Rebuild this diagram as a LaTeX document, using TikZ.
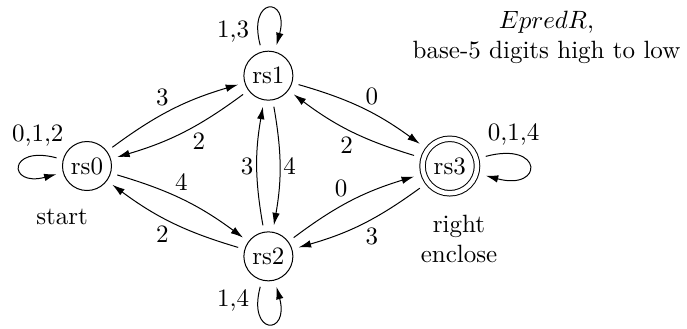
\documentclass[tikz,border=0pt]{standalone}
\usetikzlibrary{arrows.meta,positioning}
\tikzset{
  rstate/.style={circle,draw,inner sep=1pt,outer sep=2.8pt,minimum size=19.6pt},
  rfinal/.style={rstate,double,double distance=1.8pt,minimum size=21.8pt,outer sep=4pt},
  trans/.style={-{Latex[length=5pt,width=3pt]}},
  tlabel/.style={auto,inner sep=1.2pt},
  note/.style={align=center,inner sep=0pt}
}
\begin{document}
\begin{tikzpicture}[node distance=1.27cm and 2.55cm, on grid]
  \useasboundingbox (-1.223,-2.291) rectangle (8.435,2.334);
  \node[rstate] (rs0) {rs0};
  \node[rstate, above right=of rs0] (rs1) {rs1};
  \node[rstate, below right=of rs0] (rs2) {rs2};
  \node[rfinal, below right=of rs1] (rs3) {rs3};
  \node[note, below left=0.72cm and 0.35cm of rs0] (start) {start};
  \node[note, below right=1.03cm and 0.13cm of rs3] (encl) {right\\enclose};
  \node[note, above right=1.81cm and 1.36cm of rs3] (info) {$EpredR$,\\base-5 digits high to low};
  % transitions
  \draw[trans] (rs0) to[bend left=10] node[tlabel] {3} (rs1);
  \draw[trans] (rs1) to[bend left=10] node[tlabel, pos=0.45] {2} (rs0);
  \draw[trans] (rs0) to[bend left=10] node[tlabel, pos=0.4] {4} (rs2);
  \draw[trans] (rs2) to[bend left=10] node[tlabel] {2} (rs0);
  \draw[trans] (rs1) to[bend left=10] node[tlabel] {4} (rs2);
  \draw[trans] (rs2) to[bend left=10] node[tlabel] {3} (rs1);
  \draw[trans] (rs1) to[bend left=10] node[tlabel] {0} (rs3);
  \draw[trans] (rs3) to[bend left=10] node[tlabel, pos=0.45] {2} (rs1);
  \draw[trans] (rs2) to[bend left=10] node[tlabel] {0} (rs3);
  \draw[trans] (rs3) to[bend left=10] node[tlabel] {3} (rs2);
  % loops
  \draw[trans] (rs0) to[out=165, in=195, loop] node[above, pos=0.15] {0,1,2} (rs0);
  \draw[trans] (rs1) to[out=105, in=75, loop] node[left, pos=0.1] {1,3} (rs1);
  \draw[trans] (rs2) to[out=255, in=285, loop] node[left, pos=0.1] {1,4} (rs2);
  \draw[trans] (rs3) to[out=15, in=-15, loop] node[above, pos=0.2] {0,1,4} (rs3);
\end{tikzpicture}
\end{document}
